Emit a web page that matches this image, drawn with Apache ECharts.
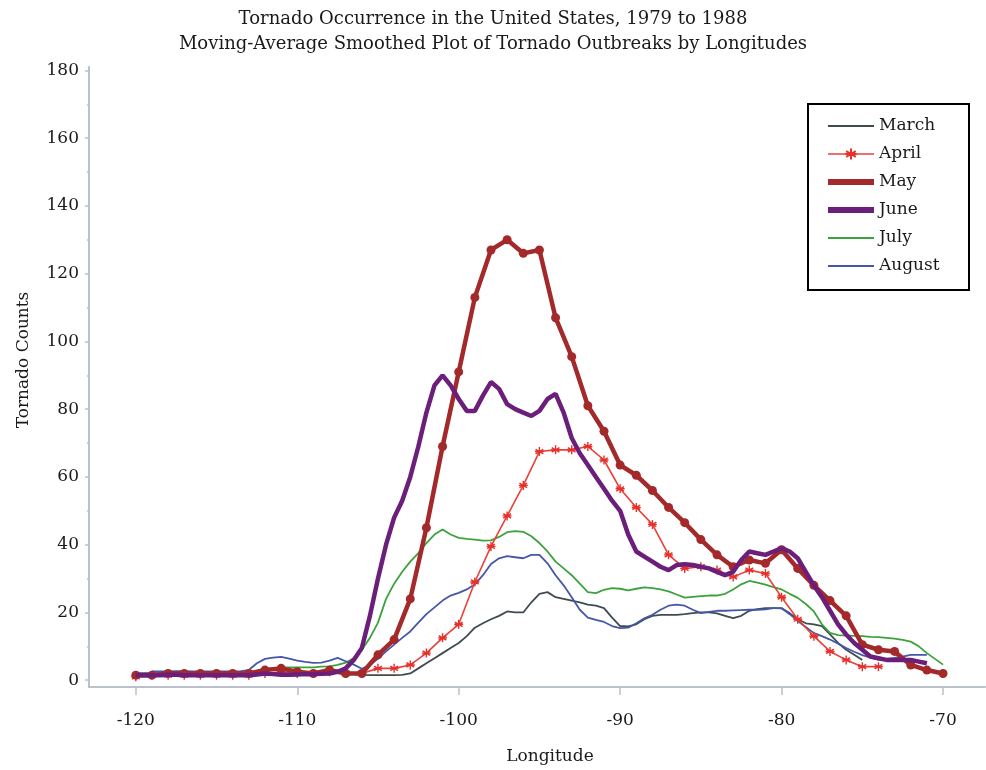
<!DOCTYPE html>
<html lang="en">
<head>
<meta charset="UTF-8">
<title>Tornado outbreaks by longitude</title>
<script src="https://cdn.jsdelivr.net/npm/echarts@6/dist/echarts.min.js"></script>
<style>
  html, body { margin: 0; padding: 0; background: #fff; }
  #main { width: 986px; height: 770px; }
</style>
</head>
<body>
<div id="main"></div>
<script>
// tick labels
var lonTicks = [-120, -110, -100, -90, -80, -70];
var countTicks = [0, 20, 40, 60, 80, 100, 120, 140, 160, 180];
var countMinor = [10, 30, 50, 70, 90, 110, 130, 150, 170];

// May and April: one value per degree of longitude
var mayStart = -120;
var may = [
  1.5, 1.5, 2, 2, 2, 2, 2, 2, 3, 3.5,
  2.5, 2, 3, 2, 2, 7.5, 12, 24, 45, 69,
  91, 113, 127, 130, 126, 127, 107, 95.5, 81, 73.5,
  63.5, 60.5, 56, 51, 46.5, 41.5, 37, 33.5, 35.5, 34.5,
  38.5, 33, 28, 23.5, 19, 10.5, 9, 8.5, 4.5, 3,
  2
];
var aprilStart = -120;
var april = [
  1, 1.5, 1.5, 1.5, 1.5, 1.5, 1.5, 1.5, 2, 2.5,
  2, 2, 2.5, 2, 2, 3.5, 3.5, 4.5, 8, 12.5,
  16.5, 29, 39.5, 48.5, 57.5, 67.5, 68, 68, 69, 65,
  56.5, 51, 46, 37, 33, 33.5, 32.5, 30.5, 32.5, 31.5,
  24.5, 18, 13, 8.5, 6, 4, 4
];

// the other months: one value per half degree
var marchStart = -120;
var march = [
  2.1, 2.1, 2.1, 2.1, 2.1, 2.1, 2.1, 2.1, 2.1, 2.1,
  2.1, 2.1, 2.2, 2.2, 2.1, 2.1, 2.1, 2.1, 2.0, 2.0,
  2.0, 2.0, 2.0, 2.1, 2.1, 2.1, 2.0, 1.8, 1.6, 1.5,
  1.5, 1.5, 1.5, 1.6, 2.0, 3.5, 5, 6.5, 8, 9.5,
  11, 13, 15.5, 16.8, 18, 19, 20.3, 20, 20, 23,
  25.5, 26, 24.5, 24, 23.5, 23, 22.3, 22, 21.3, 18.5,
  16, 15.9, 16.5, 18, 19, 19.3, 19.3, 19.3, 19.5, 19.8,
  20, 20, 19.7, 19, 18.3, 19, 20.5, 21, 21.3, 21.3,
  21.2, 19.8, 18, 16.8, 16.5, 16, 13.5, 11, 9, 7.5,
  6
];
var juneStart = -120;
var june = [
  1.5, 1.5, 1.5, 1.5, 1.6, 1.6, 1.5, 1.5, 1.5, 1.5,
  1.5, 1.5, 1.5, 1.5, 1.5, 1.7, 2, 1.8, 1.6, 1.6,
  1.7, 1.8, 1.8, 1.9, 2, 2.5, 3.5, 6, 9.5, 19,
  30, 40, 48, 53, 60, 69, 79, 87, 90, 87,
  83, 79.5, 79.5, 84, 88, 86, 81.5, 80, 79, 78,
  79.5, 83, 84.5, 79, 71.5, 67, 63.5, 60, 56.5, 53,
  50, 43, 38, 36.5, 35, 33.5, 32.5, 34, 34.2, 34,
  33.5, 33, 32, 31, 32, 35.5, 38, 37.5, 37, 38,
  39, 38, 36, 32, 28, 24.5, 20.5, 16.5, 13.5, 11,
  9, 7, 6.5, 6, 6, 6, 6, 5.5, 5
];
var julyStart = -119;
var july = [
  1.5, 1.5, 1.5, 1.5, 1.6, 1.6, 1.7, 1.7, 1.8, 1.8,
  1.9, 2, 2.2, 2.7, 3.2, 3.5, 3.8, 3.8, 3.8, 3.8,
  3.8, 4, 4.1, 4.5, 5.2, 6.5, 9, 12.5, 17, 24,
  28.5, 32, 35, 37.5, 40.5, 43, 44.5, 43, 42, 41.7,
  41.5, 41.2, 41.3, 42.3, 43.7, 44, 43.8, 42.5, 40.5, 38,
  35, 33, 31, 28.5, 26, 25.7, 26.7, 27.2, 27, 26.5,
  27, 27.4, 27.2, 26.8, 26.2, 25.3, 24.4, 24.6, 24.8, 25,
  25, 25.5, 26.8, 28.3, 29.3, 28.8, 28.2, 27.5, 26.8, 25.5,
  24.3, 22.5, 20.3, 16.5, 14, 13.3, 13.2, 13.1, 13, 12.8,
  12.7, 12.5, 12.3, 11.9, 11.4, 10, 8, 6.3, 4.6
];
var augustStart = -119;
var august = [
  2.6, 2.6, 2.6, 2.7, 2.7, 2.6, 2.6, 2.6, 2.6, 2.6,
  2.6, 2.7, 3, 5, 6.3, 6.7, 6.9, 6.4, 5.8, 5.4,
  5.1, 5.2, 5.8, 6.6, 5.6, 4.6, 3.4, 4.5, 6.3, 8.5,
  10.5, 12.5, 14.4, 17, 19.5, 21.5, 23.5, 25, 25.8, 26.8,
  28.3, 31, 34.3, 36, 36.6, 36.3, 36, 37, 37, 34.5,
  31, 28, 24.5, 20.8, 18.5, 17.8, 17.2, 16, 15.4, 15.5,
  16.8, 18.3, 19.3, 20.8, 22, 22.3, 22, 20.8, 19.8, 20.2,
  20.5, 20.5, 20.6, 20.7, 20.8, 20.8, 20.9, 21.3, 21.3, 19.5,
  17.5, 15.7, 13.9, 13, 12, 10.8, 9.5, 8.4, 7.4, 6.7,
  6.1, 6.3, 6.6, 7, 7.5, 7.5, 7.5
];

function pairs(start, step, values) {
  return values.map(function (v, i) { return [start + i * step, v]; });
}

var serif = 'DejaVu Serif';
var axisColor = '#b9c1cb';
var asterisk = 'path://M5 0L5 10M0.7 2.5L9.3 7.5M0.7 7.5L9.3 2.5M0 5L10 5';

var option = {
  backgroundColor: '#fff',
  animation: false,
  title: {
    text: 'Tornado Occurrence in the United States, 1979 to 1988\nMoving-Average Smoothed Plot of Tornado Outbreaks by Longitudes',
    left: 'center',
    top: 2,
    textStyle: { fontFamily: serif, fontSize: 18, fontWeight: 'normal', color: '#1a1a1a', lineHeight: 25 }
  },
  legend: {
    orient: 'vertical',
    left: 808,
    top: 104,
    itemWidth: 46,
    itemHeight: 14,
    itemGap: 8,
    padding: [12, 20, 14, 17],
    borderColor: '#000',
    borderWidth: 2,
    backgroundColor: '#fff',
    itemStyle: { opacity: 0 },
    lineStyle: { width: 'inherit' },
    textStyle: { fontFamily: serif, fontSize: 17, color: '#1a1a1a', lineHeight: 20, width: 70 },
    data: [
      { name: 'March' },
      { name: 'April', itemStyle: { opacity: 1 } },
      { name: 'May', lineStyle: { width: 6 } },
      { name: 'June', lineStyle: { width: 6 } },
      { name: 'July' },
      { name: 'August' }
    ]
  },
  grid: { left: 89, right: 1, top: 67, bottom: 81 },
  xAxis: {
    type: 'value',
    min: -122.9,
    max: -67.4,
    name: 'Longitude',
    nameLocation: 'middle',
    nameGap: 61,
    nameTextStyle: { fontFamily: serif, fontSize: 17, color: '#1a1a1a', padding: [0, 0, 0, 26] },
    axisLine: { onZero: false, lineStyle: { color: axisColor, width: 2 } },
    axisTick: { customValues: lonTicks, length: 8, lineStyle: { color: axisColor, width: 1.5 } },
    axisLabel: { customValues: lonTicks, margin: 25, fontFamily: serif, fontSize: 17, color: '#1a1a1a' },
    splitLine: { show: false }
  },
  yAxis: [{
    type: 'value',
    position: 'left',
    min: -2,
    max: 181,
    name: 'Tornado Counts',
    nameLocation: 'middle',
    nameRotate: 90,
    nameGap: 57,
    nameTextStyle: { fontFamily: serif, fontSize: 17, color: '#1a1a1a', padding: [0, 0, 0, 34] },
    axisLine: { show: true, onZero: false, lineStyle: { color: axisColor, width: 2 } },
    axisTick: { show: true, customValues: countTicks, length: 4, lineStyle: { color: axisColor, width: 1.5 } },
    axisLabel: { customValues: countTicks, margin: 10, fontFamily: serif, fontSize: 17, color: '#1a1a1a' },
    splitLine: { show: false }
  }, {
    type: 'value',
    position: 'left',
    min: -2,
    max: 181,
    axisLine: { show: false },
    axisTick: { show: true, customValues: countMinor, length: 2, lineStyle: { color: axisColor, width: 1.5 } },
    axisLabel: { show: false },
    splitLine: { show: false }
  }],
  series: [
    {
      name: 'March', type: 'line', z: 2,
      data: pairs(marchStart, 0.5, march),
      symbol: 'none',
      lineStyle: { color: '#3f4b50', width: 1.8 },
      itemStyle: { color: '#3f4b50' }
    },
    {
      name: 'April', type: 'line', z: 3,
      data: pairs(aprilStart, 1, april),
      symbol: asterisk, symbolSize: 9,
      lineStyle: { color: '#ea4038', width: 1.6 },
      itemStyle: { color: '#e6302a', borderColor: '#e6302a', borderWidth: 1.4 }
    },
    {
      name: 'May', type: 'line', z: 4,
      data: pairs(mayStart, 1, may),
      symbol: 'circle', symbolSize: 9,
      lineStyle: { color: '#a3292b', width: 4.5 },
      itemStyle: { color: '#a3292b' }
    },
    {
      name: 'June', type: 'line', z: 5,
      data: pairs(juneStart, 0.5, june),
      symbol: 'none',
      lineStyle: { color: '#6b1f7b', width: 4.5 },
      itemStyle: { color: '#6b1f7b' }
    },
    {
      name: 'July', type: 'line', z: 2,
      data: pairs(julyStart, 0.5, july),
      symbol: 'none',
      lineStyle: { color: '#3da23d', width: 1.8 },
      itemStyle: { color: '#3da23d' }
    },
    {
      name: 'August', type: 'line', z: 2,
      data: pairs(augustStart, 0.5, august),
      symbol: 'none',
      lineStyle: { color: '#4657a8', width: 1.8 },
      itemStyle: { color: '#4657a8' }
    }
  ]
};

var myChart = echarts.init(document.getElementById('main'));
myChart.setOption(option);
</script>
</body>
</html>
